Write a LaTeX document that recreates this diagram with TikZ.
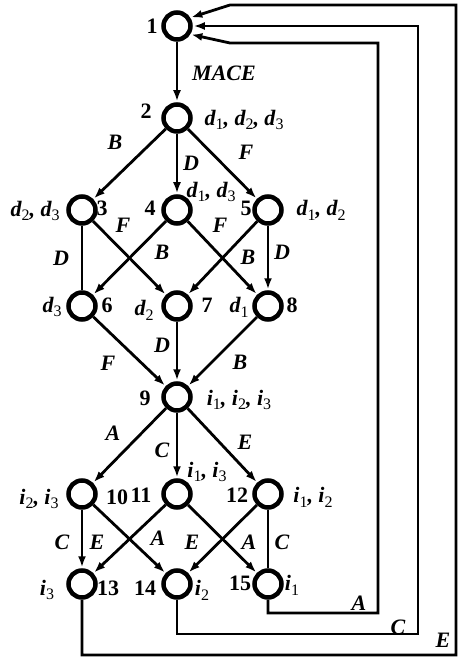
\documentclass[tikz,border=0pt]{standalone}
\usepackage{fontspec}
\setmainfont{Liberation Serif}
\usetikzlibrary{arrows.meta}
\newcommand\vsub[2]{\textbf{\textit{#1}}\raisebox{-0.22em}{\fontsize{16}{16}\selectfont\mdseries\upshape #2}}
\begin{document}
\begin{tikzpicture}[x=1pt,y=-1pt,
  st/.style={circle, draw, line width=4.5pt, minimum size=27pt, inner sep=0pt},
  ed/.style={line width=2.8pt, -{Latex[length=11pt,width=8pt]}, shorten >=1pt},
  pl/.style={line width=2.8pt},
  lb/.style={font=\fontsize{22}{24}\selectfont\bfseries\itshape, inner sep=0pt},
  num/.style={font=\fontsize{22}{24}\selectfont\bfseries, inner sep=0pt}]
\useasboundingbox (0,0) rectangle (458,660);
% states
\node[st] (n1) at (177,26) {};
\node[st] (n2) at (177,118) {};
\node[st] (n3) at (82,210) {};
\node[st] (n4) at (177,210) {};
\node[st] (n5) at (268,210) {};
\node[st] (n6) at (82,306) {};
\node[st] (n7) at (177,306) {};
\node[st] (n8) at (268,306) {};
\node[st] (n9) at (177,397) {};
\node[st] (n10) at (82,494) {};
\node[st] (n11) at (177,494) {};
\node[st] (n12) at (268,494) {};
\node[st] (n13) at (82,584) {};
\node[st] (n14) at (177,584) {};
\node[st] (n15) at (268,584) {};
% edges
\draw[ed] (n1) -- (n2);
\draw[ed] (n2) -- (n3);
\draw[ed] (n2) -- (n4);
\draw[ed] (n2) -- (n5);
\draw[pl] (n3) -- (n6);
\draw[ed] (n3) -- (n7);
\draw[ed] (n4) -- (n6);
\draw[ed] (n4) -- (n8);
\draw[ed] (n5) -- (n7);
\draw[ed] (n5) -- (n8);
\draw[ed] (n6) -- (n9);
\draw[ed] (n7) -- (n9);
\draw[ed] (n8) -- (n9);
\draw[ed] (n9) -- (n10);
\draw[ed] (n9) -- (n11);
\draw[ed] (n9) -- (n12);
\draw[ed] (n10) -- (n13);
\draw[ed] (n10) -- (n14);
\draw[ed] (n11) -- (n13);
\draw[ed] (n11) -- (n15);
\draw[ed] (n12) -- (n14);
\draw[pl] (n12) -- (n15);
% return paths
\coordinate (a1) at (378,613);
\coordinate (a2) at (230,43);
\coordinate (c1) at (418,634);
\coordinate (e1) at (456,655);
\coordinate (e2) at (230,5);
\draw[ed] (n15.south) |- (a1) |- (a2) -- (n1.-32);
\draw[ed] (n14.south) |- (c1) |- (n1.east);
\draw[ed] (n13.south) |- (e1) |- (e2) -- (n1.32);
% labels
\node[num] (t1) at (152,26) {1};
\node[lb] (tmace) at (224,73) {MACE};
\node[num] (t2) at (146,111) {2};
\node[lb] (s2) at (244,120) {\vsub{d}{1}, \vsub{d}{2}, \vsub{d}{3}};
\node[lb] (l23) at (115,142) {B};
\node[lb] (l24) at (191,163) {D};
\node[lb] (l25) at (246,152) {F};
\node[lb] (s4) at (211,192) {\vsub{d}{1}, \vsub{d}{3}};
\node[lb] (s3) at (35,211) {\vsub{d}{2}, \vsub{d}{3}};
\node[num] (t3) at (102,208) {3};
\node[num] (t4) at (150,208) {4};
\node[num] (t5) at (246,208) {5};
\node[lb] (s5) at (321,210) {\vsub{d}{1}, \vsub{d}{2}};
\node[lb] (l37) at (123,225) {F};
\node[lb] (l48) at (220,225) {F};
\node[lb] (l36) at (61,258) {D};
\node[lb] (l46) at (162,252) {B};
\node[lb] (l57) at (248,257) {B};
\node[lb] (l58) at (282,252) {D};
\node[lb] (s6) at (52,307) {\vsub{d}{3}};
\node[num] (t6) at (107,305) {6};
\node[lb] (s7) at (144,310) {\vsub{d}{2}};
\node[num] (t7) at (207,305) {7};
\node[lb] (s8) at (239,307) {\vsub{d}{1}};
\node[num] (t8) at (292,305) {8};
\node[lb] (l69) at (108,363) {F};
\node[lb] (l79) at (162,345) {D};
\node[lb] (l89) at (240,362) {B};
\node[num] (t9) at (145,398) {9};
\node[lb] (s9) at (239,400) {\vsub{i}{1}, \vsub{i}{2}, \vsub{i}{3}};
\node[lb] (l910) at (113,433) {A};
\node[lb] (l911) at (162,450) {C};
\node[lb] (l912) at (245,442) {E};
\node[lb] (s11) at (207,472) {\vsub{i}{1}, \vsub{i}{3}};
\node[lb] (s10) at (39,499) {\vsub{i}{2}, \vsub{i}{3}};
\node[num] (t10) at (117,497) {10};
\node[num] (t11) at (141,495) {11};
\node[num] (t12) at (237,495) {12};
\node[lb] (s12) at (313,497) {\vsub{i}{1}, \vsub{i}{2}};
\node[lb] (l1013) at (62,542) {C};
\node[lb] (l1014) at (97,542) {E};
\node[lb] (l1113) at (158,538) {A};
\node[lb] (l1214) at (192,542) {E};
\node[lb] (l1115) at (249,542) {A};
\node[lb] (l1215) at (282,542) {C};
\node[lb] (s13) at (47,590) {\vsub{i}{3}};
\node[num] (t13) at (108,588) {13};
\node[num] (t14) at (145,588) {14};
\node[lb] (s14) at (202,590) {\vsub{i}{2}};
\node[num] (t15) at (240,583) {15};
\node[lb] (s15) at (292,585) {\vsub{i}{1}};
\node[lb] (rA) at (359,603) {A};
\node[lb] (rC) at (398,627) {C};
\node[lb] (rE) at (443,640) {E};
\end{tikzpicture}
\end{document}
